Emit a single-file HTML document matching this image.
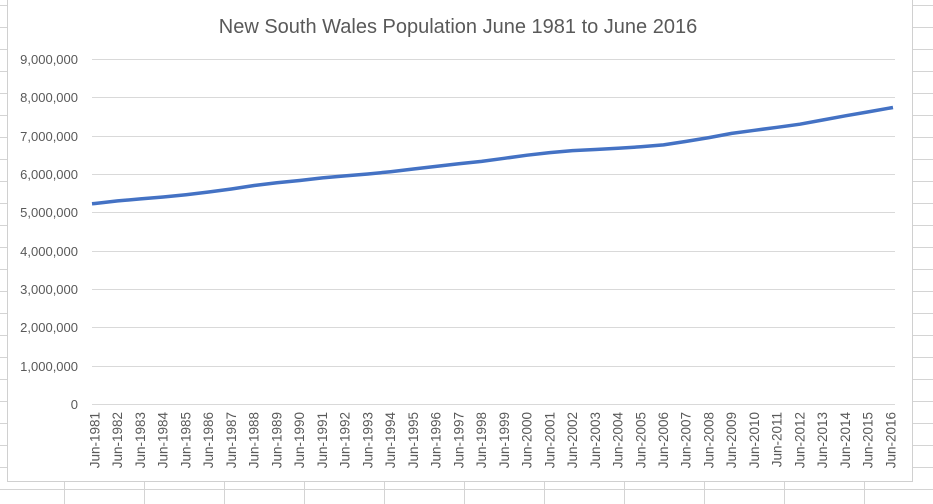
<!DOCTYPE html>
<html><head><style>
body{margin:0;background:#fff;}
svg{display:block;font-family:"Liberation Sans",sans-serif;}
</style></head><body>
<svg width="933" height="504" viewBox="0 0 933 504">
<g stroke="#d4d4d4" stroke-width="1">
<line x1="0" y1="5.5" x2="933" y2="5.5"/><line x1="0" y1="27.5" x2="933" y2="27.5"/><line x1="0" y1="49.5" x2="933" y2="49.5"/><line x1="0" y1="71.5" x2="933" y2="71.5"/><line x1="0" y1="93.5" x2="933" y2="93.5"/><line x1="0" y1="115.5" x2="933" y2="115.5"/><line x1="0" y1="137.5" x2="933" y2="137.5"/><line x1="0" y1="159.5" x2="933" y2="159.5"/><line x1="0" y1="181.5" x2="933" y2="181.5"/><line x1="0" y1="203.5" x2="933" y2="203.5"/><line x1="0" y1="225.5" x2="933" y2="225.5"/><line x1="0" y1="247.5" x2="933" y2="247.5"/><line x1="0" y1="269.5" x2="933" y2="269.5"/><line x1="0" y1="291.5" x2="933" y2="291.5"/><line x1="0" y1="313.5" x2="933" y2="313.5"/><line x1="0" y1="335.5" x2="933" y2="335.5"/><line x1="0" y1="357.5" x2="933" y2="357.5"/><line x1="0" y1="379.5" x2="933" y2="379.5"/><line x1="0" y1="401.5" x2="933" y2="401.5"/><line x1="0" y1="423.5" x2="933" y2="423.5"/><line x1="0" y1="445.5" x2="933" y2="445.5"/><line x1="0" y1="467.5" x2="933" y2="467.5"/><line x1="0" y1="489.5" x2="933" y2="489.5"/>
<line x1="64.5" y1="0" x2="64.5" y2="504"/><line x1="144.5" y1="0" x2="144.5" y2="504"/><line x1="224.5" y1="0" x2="224.5" y2="504"/><line x1="304.5" y1="0" x2="304.5" y2="504"/><line x1="384.5" y1="0" x2="384.5" y2="504"/><line x1="464.5" y1="0" x2="464.5" y2="504"/><line x1="544.5" y1="0" x2="544.5" y2="504"/><line x1="624.5" y1="0" x2="624.5" y2="504"/><line x1="704.5" y1="0" x2="704.5" y2="504"/><line x1="784.5" y1="0" x2="784.5" y2="504"/><line x1="864.5" y1="0" x2="864.5" y2="504"/>
</g>
<rect x="7.5" y="-2" width="905" height="483.5" fill="#fff" stroke="#d0d0d0"/>
<text x="458" y="33" text-anchor="middle" font-size="20" fill="#595959">New South Wales Population June 1981 to June 2016</text>
<g stroke="#d9d9d9" stroke-width="1">
<line x1="92" y1="59.5" x2="895" y2="59.5"/><line x1="92" y1="97.5" x2="895" y2="97.5"/><line x1="92" y1="136.5" x2="895" y2="136.5"/><line x1="92" y1="174.5" x2="895" y2="174.5"/><line x1="92" y1="212.5" x2="895" y2="212.5"/><line x1="92" y1="251.5" x2="895" y2="251.5"/><line x1="92" y1="289.5" x2="895" y2="289.5"/><line x1="92" y1="327.5" x2="895" y2="327.5"/><line x1="92" y1="366.5" x2="895" y2="366.5"/><line x1="92" y1="404.5" x2="895" y2="404.5"/>
</g>
<g font-size="13" fill="#595959" text-anchor="end">
<text x="78" y="64">9,000,000</text><text x="78" y="102">8,000,000</text><text x="78" y="141">7,000,000</text><text x="78" y="179">6,000,000</text><text x="78" y="217">5,000,000</text><text x="78" y="256">4,000,000</text><text x="78" y="294">3,000,000</text><text x="78" y="332">2,000,000</text><text x="78" y="371">1,000,000</text><text x="78" y="409">0</text>
</g>
<polyline fill="none" stroke="#4472c4" stroke-width="3.5" stroke-linejoin="round" points="92,203.8 95,203.5 117.7,200.9 140.5,198.9 163.2,197 186,194.7 208.7,192 231.4,189 254.2,185.5 276.9,182.8 299.7,180.5 322.4,177.9 345.1,175.9 367.9,174 390.6,171.7 413.4,169 436.1,166.4 458.8,163.7 481.6,161.4 504.3,158.3 527.1,155.2 549.8,152.6 572.5,150.6 595.3,149.5 618,148.3 640.8,146.8 663.5,144.9 686.2,141.4 709,137.6 731.7,133.4 754.5,130.3 777.2,127.3 799.9,124.2 822.7,120 845.4,115.8 868.2,111.9 893,107.5"/>
<g font-size="13.5" fill="#595959" text-anchor="end" id="xl"></g>
<script>
var g=document.getElementById('xl');
for(var i=0;i<36;i++){var x=95+i*22.74+4.5;var t=document.createElementNS('http://www.w3.org/2000/svg','text');
t.setAttribute('transform','translate('+x.toFixed(1)+',412) rotate(-90)');t.setAttribute('x','0');t.setAttribute('y','0');
t.textContent='Jun-'+(1981+i);g.appendChild(t);}
</script>
</svg>
</body></html>
